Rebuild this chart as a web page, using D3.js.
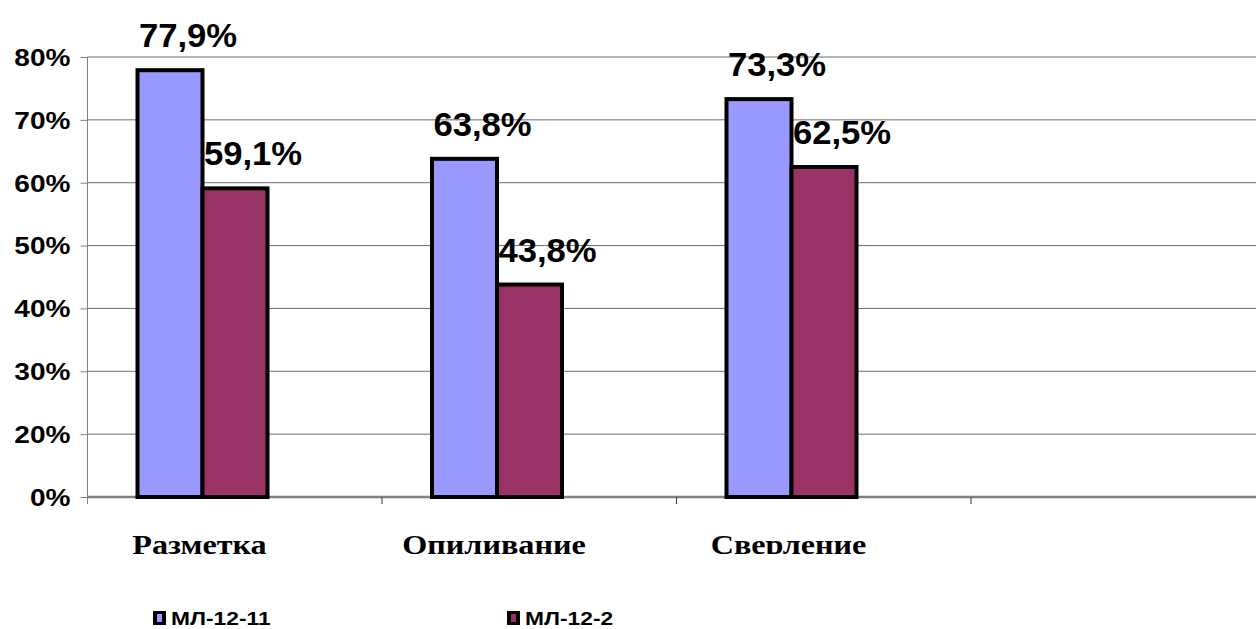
<!DOCTYPE html>
<html>
<head>
<meta charset="utf-8">
<script src="https://cdn.jsdelivr.net/npm/d3@7"></script>
<style>
  body { margin: 0; background: #fff; }
  svg { display: block; }
  .grid line { stroke: #6e6e6e; stroke-width: 1; }
  .ytick { font-family: "Liberation Sans", Arial, sans-serif; font-weight: bold; font-size: 23px; }
  .vlabel { font-family: "Liberation Sans", Arial, sans-serif; font-weight: bold; font-size: 33px; }
  .cat { font-family: "Liberation Serif", "Times New Roman", serif; font-weight: bold; font-size: 28px; }
  .legend text { font-family: "Liberation Sans", Arial, sans-serif; font-weight: bold; font-size: 19px; }
</style>
</head>
<body>
<svg id="chart" width="1256" height="629"></svg>
<script>
const categories = ["Разметка", "Опиливание", "Сверление", ""];
const series = ["МЛ-12-11", "МЛ-12-2"];
const colors = ["#9999ff", "#993366"];
const valuesA = [77.9, 63.8, 73.3];
const valuesB = [59.1, 43.8, 62.5];
const labelsA = ["77,9%", "63,8%", "73,3%"];
const labelsB = ["59,1%", "43,8%", "62,5%"];
const yTicks = [10, 20, 30, 40, 50, 60, 70, 80];
const yTickLabels = ["0%", "20%", "30%", "40%", "50%", "60%", "70%", "80%"];

const svg = d3.select("#chart");
const plotLeft = 87.5, plotRight = 1265.5, plotTop = 57, plotBottom = 497;

const x = d3.scaleBand().domain(categories).range([plotLeft, plotRight]).padding(0);
const xSub = d3.scaleBand().domain(series).range([50, 180]).padding(0);
const y = d3.scaleLinear().domain([10, 80]).range([plotBottom, plotTop]);

// gridlines
svg.append("g").attr("class", "grid")
  .selectAll("line")
  .data(yTicks.slice(1))
  .join("line")
  .attr("x1", plotLeft).attr("x2", 1256)
  .attr("y1", d => y(d)).attr("y2", d => y(d));

// y axis
const yAxis = svg.append("g").attr("transform", "translate(" + plotLeft + ",0)")
  .call(d3.axisLeft(y).tickValues(yTicks).tickSize(7).tickFormat((d, i) => yTickLabels[i]));
yAxis.select(".domain").attr("stroke", "#808080").attr("d", "M0," + plotTop + "V" + (plotBottom + 7));
yAxis.selectAll(".tick line").attr("stroke", "#808080");
yAxis.selectAll(".tick text")
  .attr("class", "ytick")
  .attr("fill", "#000")
  .attr("x", 0).attr("dy", "0.36em")
  .attr("transform", "translate(-17,0) scale(1.22,1)");

// x axis
const xAxis = svg.append("g").attr("transform", "translate(0," + plotBottom + ")");
xAxis.append("line").attr("x1", plotLeft).attr("x2", 1256)
  .attr("stroke", "#808080").attr("stroke-width", 2.5);
xAxis.selectAll("line.xt")
  .data(categories)
  .join("line")
  .attr("class", "xt")
  .attr("x1", d => x(d) + x.bandwidth()).attr("x2", d => x(d) + x.bandwidth())
  .attr("y1", 0).attr("y2", 7)
  .attr("stroke", "#333");

// bars
const rows = categories.slice(0, 3).map((c, i) => ({
  cat: c,
  items: [
    { s: series[0], v: valuesA[i], label: labelsA[i], color: colors[0] },
    { s: series[1], v: valuesB[i], label: labelsB[i], color: colors[1] }
  ]
}));

const groups = svg.append("g").selectAll("g")
  .data(rows)
  .join("g")
  .attr("transform", d => "translate(" + x(d.cat) + ",0)");

groups.selectAll("rect")
  .data(d => d.items)
  .join("rect")
  .attr("x", d => xSub(d.s))
  .attr("width", xSub.bandwidth())
  .attr("y", d => y(d.v))
  .attr("height", d => y(10) - y(d.v))
  .attr("fill", d => d.color)
  .attr("stroke", "#000")
  .attr("stroke-width", 4);

groups.selectAll("text")
  .data(d => d.items)
  .join("text")
  .attr("class", "vlabel")
  .attr("text-anchor", "middle")
  .attr("transform", d => "translate(" + (xSub(d.s) + xSub.bandwidth() / 2 + 18) + "," + (y(d.v) - 23) + ") scale(1.05,1)")
  .text(d => d.label);

// category labels, clipped at the bottom like the original
svg.append("clipPath").attr("id", "catclip")
  .append("rect").attr("x", 0).attr("y", 500).attr("width", 1256).attr("height", 54);

svg.append("g").attr("clip-path", "url(#catclip)")
  .selectAll("text")
  .data(categories.slice(0, 3))
  .join("text")
  .attr("class", "cat")
  .attr("text-anchor", "middle")
  .attr("transform", d => "translate(" + (x(d) + 112) + ",554) scale(1.15,1)")
  .text(d => d);

// legend
const legend = svg.append("g").attr("class", "legend")
  .selectAll("g")
  .data(series)
  .join("g")
  .attr("transform", (d, i) => "translate(" + (153 + i * 354) + ",611)");
legend.append("rect").attr("width", 13).attr("height", 14).attr("fill", "#000");
legend.append("rect").attr("x", 4).attr("y", 3).attr("width", 5).attr("height", 8)
  .attr("fill", (d, i) => colors[i]);
legend.append("text")
  .attr("transform", "translate(18,14) scale(1.2,1)")
  .text(d => d);
</script>
</body>
</html>
